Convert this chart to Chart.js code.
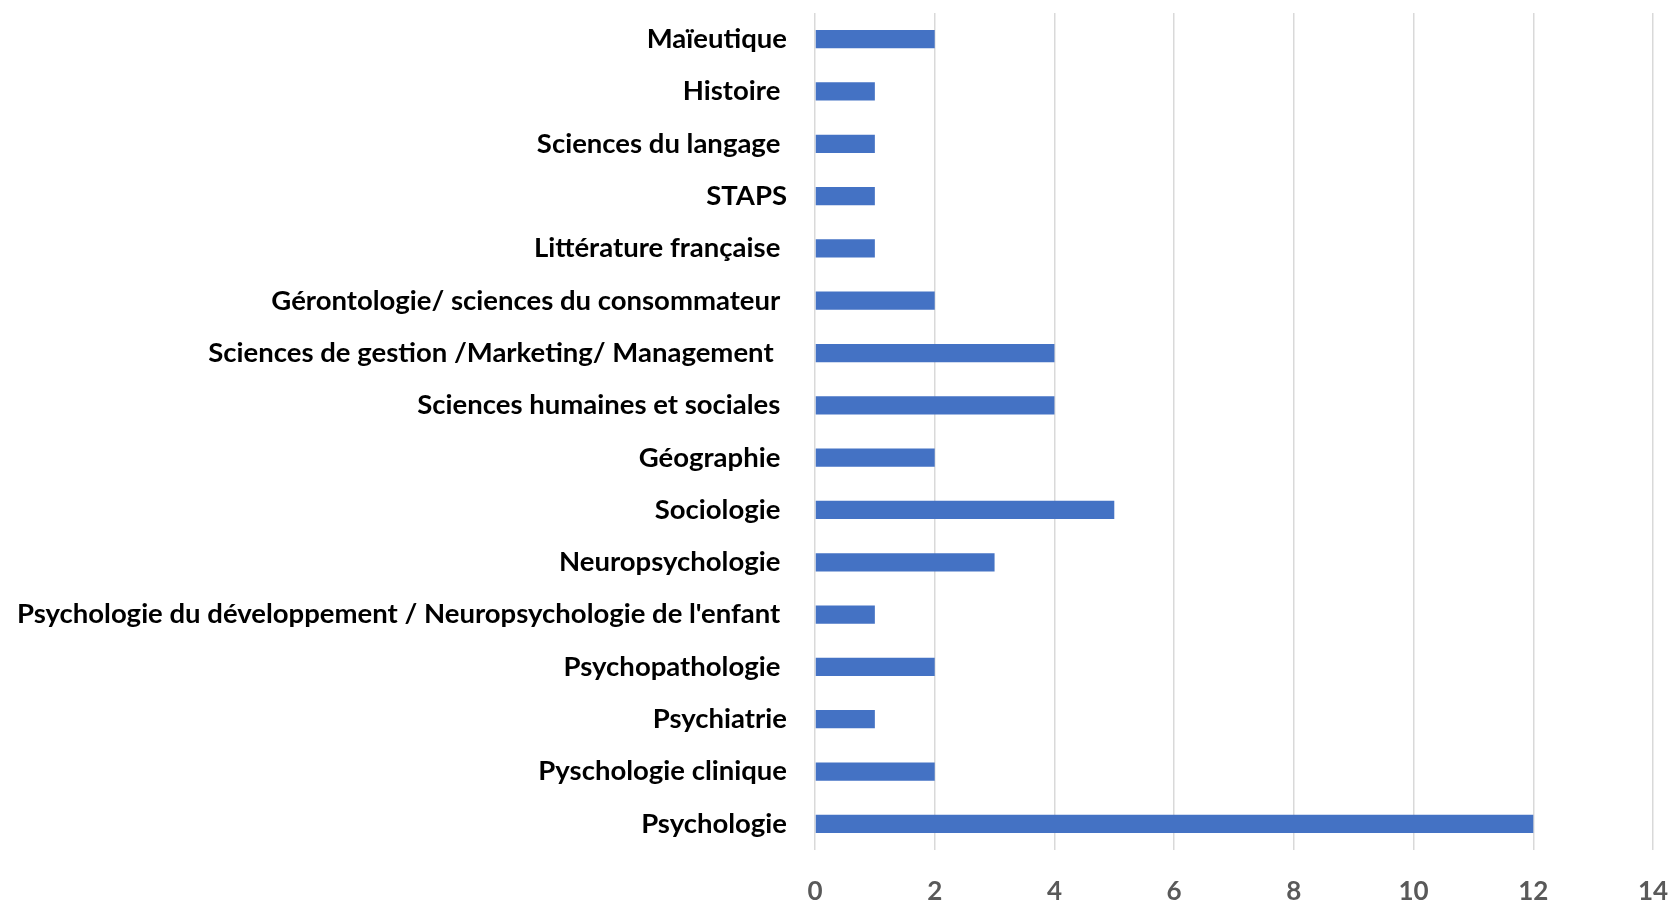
<!DOCTYPE html>
<html>
<head>
<meta charset="utf-8">
<script src="https://cdn.jsdelivr.net/npm/chart.js@4/dist/chart.umd.min.js"></script>
<style>
  html, body { margin: 0; padding: 0; background: #fff; }
  #wrap { width: 1672px; height: 905px; }
</style>
</head>
<body>
<div id="wrap"><canvas id="chart" width="1672" height="905"></canvas></div>
<script>
// trailing spaces kept as in the source labels (they shift the text a bit)
const categories = [
    'Maïeutique',
    'Histoire ',
    'Sciences du langage ',
    'STAPS',
    'Littérature française ',
    'Gérontologie/ sciences du consommateur ',
    'Sciences de gestion /Marketing/ Management  ',
    'Sciences humaines et sociales ',
    'Géographie ',
    'Sociologie ',
    'Neuropsychologie ',
    "Psychologie du développement / Neuropsychologie de l'enfant ",
    'Psychopathologie ',
    'Psychiatrie',
    'Pyschologie clinique',
    'Psychologie'
];
const counts = [2, 1, 1, 1, 1, 2, 4, 4, 2, 5, 3, 1, 2, 1, 2, 12];
const xTicks = [0, 2, 4, 6, 8, 10, 12, 14];

const PLOT_LEFT = 815;

// tick padding gets added to the scale's outer padding, so use an
// invisible tick mark length for the label gap instead
new Chart(document.querySelector('#chart'), {
    type: 'bar',
    data: {
        labels: categories,
        datasets: [
            {
                data: counts,
                backgroundColor: '#4472c4',
                borderWidth: 0,
                barPercentage: 0.35,
                categoryPercentage: 1
            }
        ]
    },
    options: {
        indexAxis: 'y',
        responsive: false,
        animation: false,
        layout: { padding: { top: 13, right: 19, bottom: 0, left: 0 } },
        plugins: {
            legend: { display: false },
            tooltip: { enabled: false }
        },
        scales: {
            x: {
                min: 0,
                max: 14,
                afterBuildTicks: (scale) => {
                    scale.ticks = xTicks.map(v => ({ value: v }));
                },
                afterFit: (scale) => { scale.height = 55; },
                grid: {
                    color: '#d9d9d9',
                    lineWidth: 1.5,
                    drawTicks: true,
                    tickLength: 26,
                    tickColor: 'rgba(0,0,0,0)'
                },
                border: { display: false },
                ticks: {
                    padding: 0,
                    color: '#595959',
                    font: { family: 'Lato', weight: 'bold', size: 26 }
                }
            },
            y: {
                afterFit: (scale) => { scale.width = PLOT_LEFT; },
                grid: { display: false, drawTicks: true, tickLength: 28 },
                border: { display: false },
                ticks: {
                    padding: 0,
                    color: '#000',
                    autoSkip: false,
                    font: { family: 'Lato', weight: 'bold', size: 27.5, lineHeight: 0.9 }
                }
            }
        }
    }
});
</script>
</body>
</html>
